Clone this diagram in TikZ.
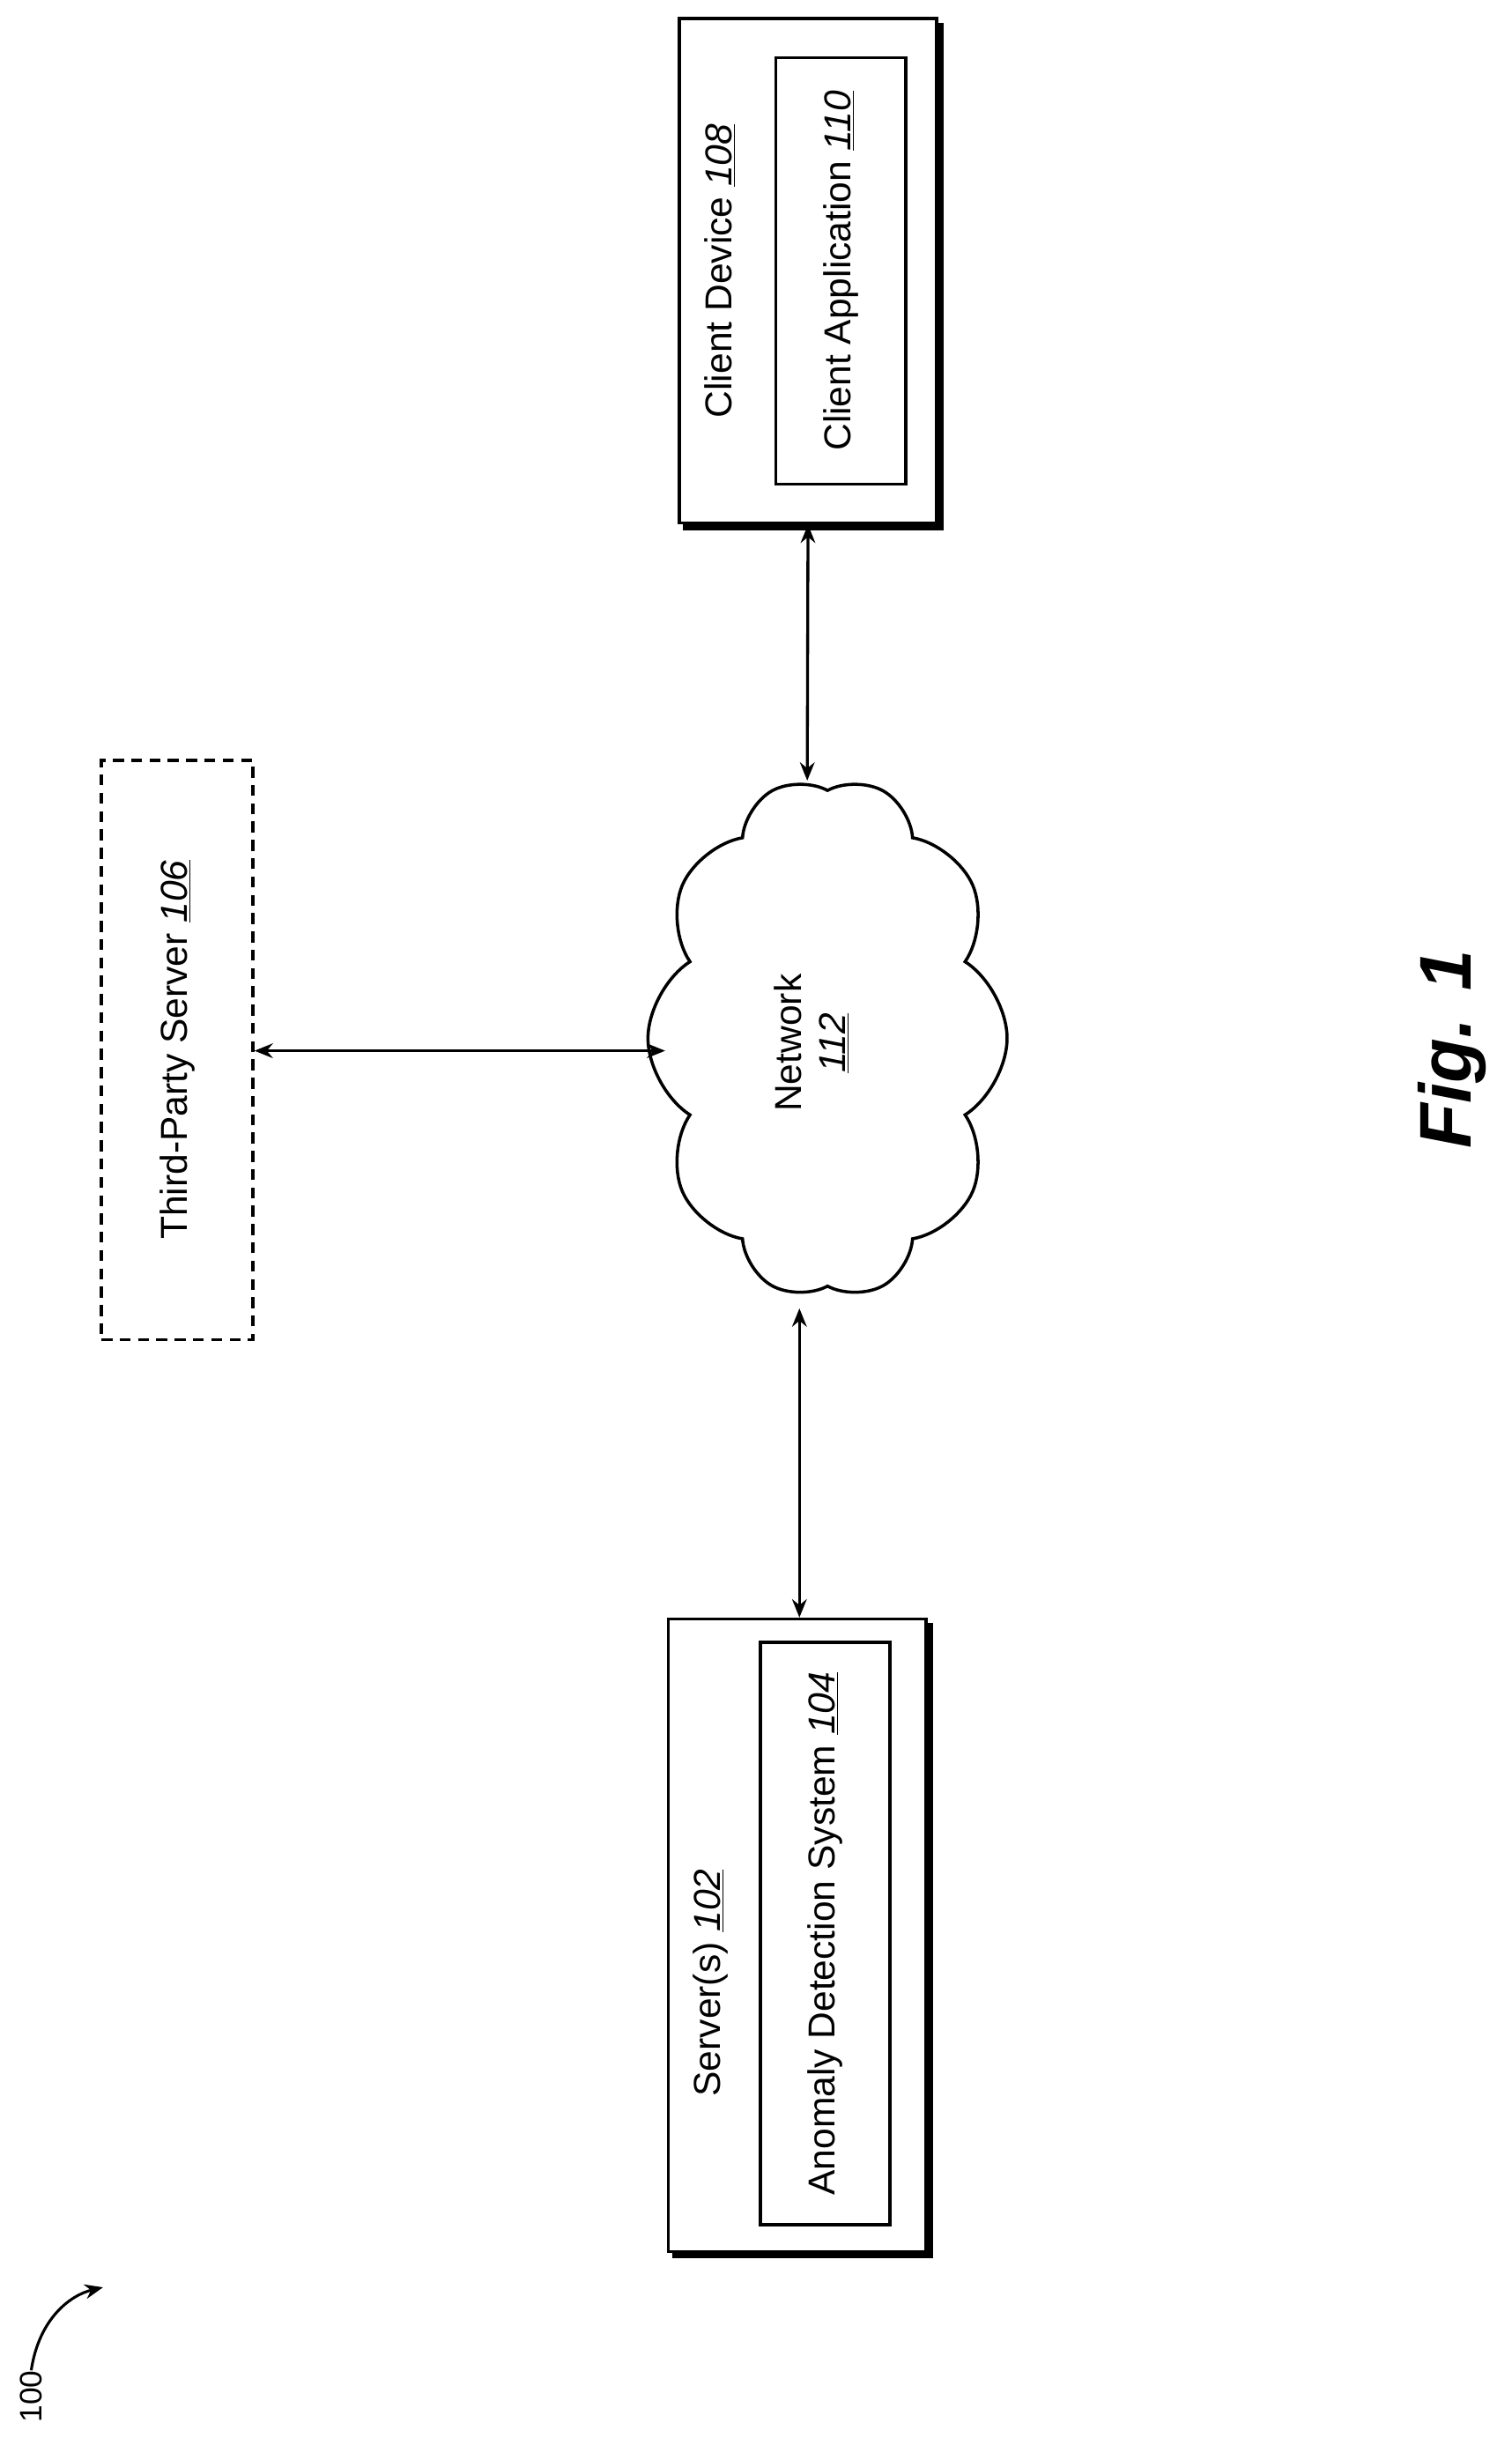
\documentclass[tikz,border=0pt]{standalone}
\usepackage{fontspec}
\setmainfont{Liberation Sans}
\usetikzlibrary{shapes.symbols,arrows.meta,backgrounds}
\begin{document}
\begin{tikzpicture}[x=0.03cm,y=-0.03cm,
  box/.style={draw,line width=1.7pt,fill=white,inner sep=0pt},
  lbl/.style={rotate=90,font=\fontsize{20.5}{24}\selectfont,inner sep=0pt,align=center},
  conn/.style={line width=1.6pt,{Stealth[length=10pt,width=8pt]}-{Stealth[length=10pt,width=8pt]}},
  sh/.style={fill=black}]
\useasboundingbox (0,0) rectangle (968,1566);
% client device
\node[box,minimum width=4.95cm,minimum height=9.69cm] (cd) at (517.5,173.5) {};
\node[box,minimum width=2.49cm,minimum height=8.19cm] (ca) at (538.5,173.5) {};
\node[lbl] (cdt) at (461,173.5) {Client Device \underline{\textit{108}}};
\node[lbl] (cat) at (538.5,173.5) {Client Application \underline{\textit{110}}};
% server
\node[box,minimum width=4.95cm,minimum height=12.15cm] (sv) at (510.5,1239.5) {};
\node[box,minimum width=2.49cm,minimum height=11.19cm] (ad) at (528.5,1238.5) {};
\node[lbl] (svt) at (455,1270) {Server(s) \underline{\textit{102}}};
\node[lbl] (adt) at (528.5,1238.5) {Anomaly Detection System \underline{\textit{104}}};
\begin{scope}[on background layer]
\foreach \n in {cd,ca,sv,ad}{
  \fill[sh] ([shift={(3.5,3.5)}]\n.south west) rectangle ([shift={(3.5,3.5)}]\n.north east);
}
\end{scope}
% third party
\node[box,dash pattern=on 6pt off 4pt,minimum width=2.91cm,minimum height=11.13cm] (tp) at (113.5,672.5) {};
\node[lbl] (tpt) at (113.5,672.5) {Third-Party Server \underline{\textit{106}}};
% cloud
\node[draw,line width=1.7pt,cloud,cloud puffs=10,cloud puff arc=115,aspect=1.4,
  minimum width=10cm,minimum height=6.9cm,rotate=90,inner sep=0pt] (net) at (530,665) {};
\node[lbl] (nett) at (520,668) {Network\\\underline{\textit{112}}};
% connectors
\coordinate (c1) at (517,500);
\coordinate (c2) at (426,673);
\coordinate (c3) at (512,838);
\draw[conn] (cd.south) -- (c1);
\draw[conn] (tp.east |- c2) -- (c2);
\draw[conn] (c3) -- (c3 |- sv.north);
% fig label
\node[rotate=90,font=\fontsize{40}{48}\selectfont\bfseries\itshape] (fig) at (930,672) {Fig. 1};
\node[lbl,font=\fontsize{17}{20}\selectfont] (ref) at (20,1535) {100};
\coordinate (r1) at (66,1465);
\draw[line width=1.5pt,-{Stealth[length=10pt,width=8pt]}] (ref.east) .. controls (25,1485) and (45,1470) .. (r1);
\end{tikzpicture}
\end{document}
